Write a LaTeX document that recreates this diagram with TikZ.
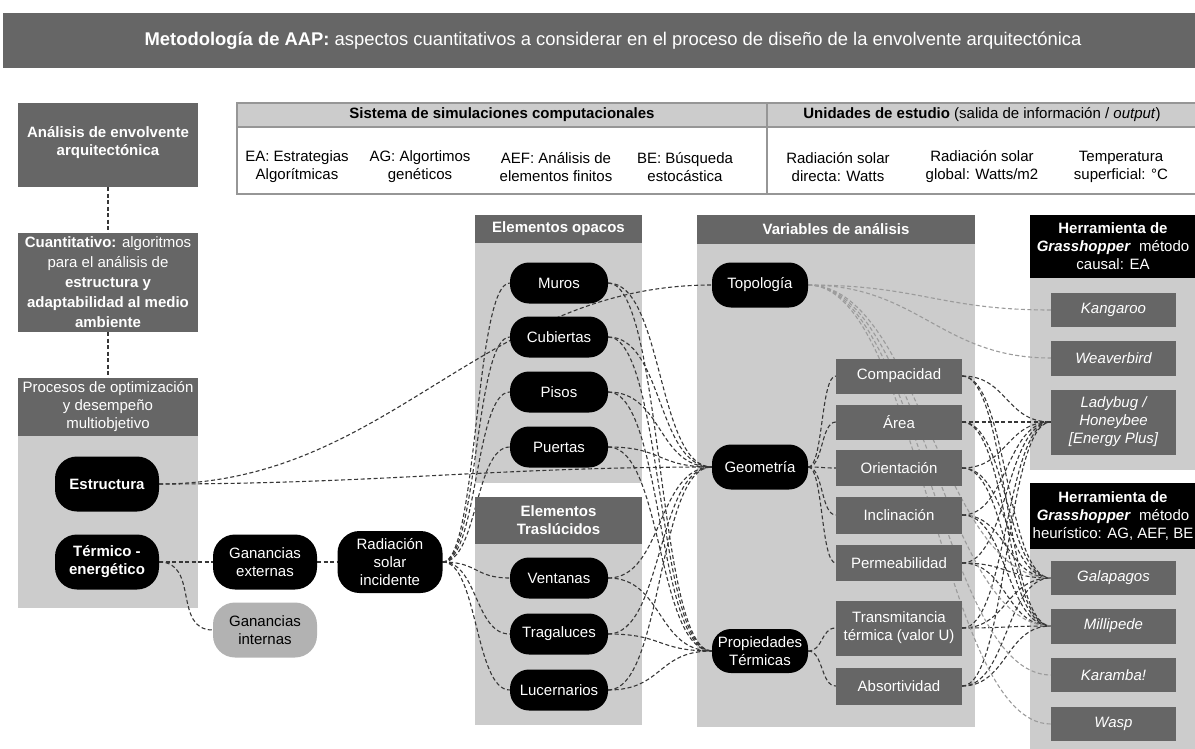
\documentclass[tikz,border=0pt]{standalone}
\usepackage{fontspec}
\setmainfont{Liberation Sans}
\usetikzlibrary{positioning}
\definecolor{AAPDark}{RGB}{102,102,102}
\definecolor{AAPLight}{RGB}{204,204,204}
\definecolor{AAPSoft}{RGB}{178,178,178}
\definecolor{AAPRule}{RGB}{150,150,150}
\definecolor{AAPLink}{RGB}{55,55,55}
\definecolor{AAPFaint}{RGB}{155,155,155}
\pgfdeclarelayer{panels}
\pgfdeclarelayer{links}
\pgfsetlayers{panels,links,main}

\begin{document}
\begin{tikzpicture}[x=1pt,y=-1pt,font=\fontsize{15}{18}\selectfont,
   box/.style={fill=AAPDark,text=white,align=center,inner sep=1pt},
   hdr/.style={box,font=\fontsize{15}{18}\selectfont\bfseries},
   blk/.style={fill=black,text=white,align=center,inner sep=1pt},
   pill/.style={blk,rounded corners=19pt,minimum width=98pt,minimum height=41pt},
   var/.style={box,minimum width=126pt,minimum height=#1},var/.default=35pt,
   tool/.style={box,font=\fontsize{15}{18}\selectfont\itshape,minimum width=125pt,minimum height=#1},tool/.default=34pt,
   link/.style={AAPLink,line width=1.1pt,dash pattern=on 4pt off 2.5pt},
   faint/.style={link,AAPFaint},
   cell/.style={align=center,inner sep=0pt}]
\clip (0,0) rectangle (1195,749);

% title bar
\node[fill=AAPDark,text=white,minimum width=1220pt,minimum height=55pt,font=\fontsize{18.4}{22}\selectfont] (title) at (613,40.5)
   {\textbf{Metodología de AAP:} aspectos cuantitativos a considerar en el proceso de diseño de la envolvente arquitectónica};

% left column
\node[hdr,minimum width=180pt,minimum height=84pt,text height=25pt] (ana) at (108,145) {Análisis de envolvente\\arquitectónica};
\node[box,minimum width=180pt,minimum height=99pt,font=\fontsize{15}{20}\selectfont] (cuan) at (108,282.5)
   {\textbf{Cuantitativo:} algoritmos\\para el análisis de\\\textbf{estructura y}\\\textbf{adaptabilidad al medio}\\\textbf{ambiente}};
\node[box,minimum width=180pt,minimum height=58pt] (proc) at (108,407) {Procesos de optimización\\y desempeño\\multiobjetivo};
\node[pill,minimum width=104pt,minimum height=55pt,rounded corners=22pt,font=\fontsize{15}{18}\selectfont\bfseries] (estr) at (107,484) {Estructura};
\node[pill,minimum width=104pt,minimum height=55pt,rounded corners=22pt,font=\fontsize{15}{18}\selectfont\bfseries] (term) at (107,562) {Térmico -\\energético};
\node[pill,minimum width=104pt,minimum height=55pt,rounded corners=22pt] (gext) at (265,562) {Ganancias\\externas};
\node[pill,fill=AAPSoft,text=black,minimum width=104pt,minimum height=55pt,rounded corners=22pt] (gint) at (265,630) {Ganancias\\internas};
\node[pill,minimum width=105pt,minimum height=62pt,rounded corners=22pt] (rad) at (390,562) {Radiación\\solar\\incidente};

% table of simulations and units
\draw[AAPRule,line width=1.2pt,fill=AAPLight] (237,103) rectangle (1205,127);
\draw[AAPRule,line width=1.2pt] (237,103) rectangle (1205,194);
\draw[AAPRule,line width=1.2pt] (767,103) -- (767,194);
\node[cell,font=\fontsize{15}{18}\selectfont\bfseries] (sim) at (502,115) {Sistema de simulaciones computacionales};
\node[cell] (uni) at (982,115) {\textbf{Unidades de estudio} (salida de información / \textit{output})};
\foreach \x/\t [count=\i] in %
{297/{EA: Estrategias\\Algorítmicas},420/{AG: Algortimos\\genéticos},556/{AEF: Análisis de\\elementos finitos},
 685/{BE: Búsqueda\\estocástica},838/{Radiación solar\\directa: Watts},982/{Radiación solar\\global: Watts/m2},
 1121/{Temperatura\\superficial: °C}} {
   \node[cell] (c\i) at (\x,167) {\t};
}

% panels
\begin{pgfonlayer}{panels}
\fill[AAPLight] (18,436) rectangle (198,608);
\fill[AAPLight] (475,215) rectangle (642,483);
\fill[AAPLight] (475,497) rectangle (642,725);
\fill[AAPLight] (697,215) rectangle (975,727);
\fill[AAPLight] (1030,278) rectangle (1200,470);
\fill[AAPLight] (1030,549) rectangle (1200,760);
\end{pgfonlayer}
\node[hdr,minimum width=167pt,minimum height=28pt] (opa) at (558.5,229) {Elementos opacos};
\node[hdr,minimum width=167pt,minimum height=47pt] (tras) at (558.5,520.5) {Elementos\\Traslúcidos};
\node[hdr,minimum width=278pt,minimum height=29pt] (vars) at (836,229.5) {Variables de análisis};
\node[blk,minimum width=166pt,minimum height=63pt] (causal) at (1113,246.5)
   {\textbf{Herramienta de}\\\textbf{\textit{Grasshopper}}~ método\\causal: EA};
\node[blk,minimum width=166pt,minimum height=66pt] (heur) at (1113,516)
   {\textbf{Herramienta de}\\\textbf{\textit{Grasshopper}}~ método\\heurístico: AG, AEF, BE};

% envelope elements
\foreach \n/\y/\t in %
{mur/283/Muros,cub/337/Cubiertas,pis/392/Pisos,pue/447/Puertas,ven/578/Ventanas,tra/634/Tragaluces,luc/690/Lucernarios} {
   \node[pill] (\n) at (559,\y) {\t};
}

% analysis variables
\node[pill,minimum width=96pt,minimum height=45pt] (topo) at (760,285) {Topología};
\node[pill,minimum width=96pt,minimum height=45pt] (geom) at (760,467) {Geometría};
\node[pill,minimum width=96pt,minimum height=44pt] (prop) at (760,651) {Propiedades\\Térmicas};
\foreach \n/\y/\h/\t in %
{com/376/35pt/Compacidad,are/422/35pt/Área,ori/468/36pt/Orientación,inc/515/37pt/Inclinación,
 per/563/36pt/Permeabilidad,tru/628/55pt/{Transmitancia\\térmica (valor U)},abs/686/37pt/Absortividad} {
   \node[var=\h] (\n) at (899,\y) {\t};
}

% grasshopper tools
\foreach \n/\y/\h/\t in %
{kan/310/34pt/Kangaroo,wea/358/35pt/Weaverbird,lad/422/65pt/{Ladybug /\\Honeybee\\{[Energy Plus]}},
 gal/578/34pt/Galapagos,mil/626/35pt/Millipede,kar/675/34pt/Karamba!,was/724/34pt/Wasp} {
   \node[tool=\h] (\n) at (1113.5,\y) {\t};
}

% connectors
\begin{pgfonlayer}{links}
\draw[link] (ana) -- (cuan);
\draw[link] (cuan) -- (proc);
\draw[link] (estr.east) to[out=0,in=180] (topo.west);
\draw[link] (estr.east) to[out=0,in=180] (geom.west);
\draw[link] (term.east) -- (gext.west);
\draw[link] (term.east) to[out=0,in=180,distance=40pt] (gint.west);
\draw[link] (gext.east) -- (rad.west);
\foreach \n in {mur,cub,pis,pue,ven,tra,luc} {
   \draw[link] (rad.east) to[out=0,in=180,distance=35pt] (\n.west);
   \draw[link] (\n.east) to[out=0,in=180,distance=55pt] (geom.west);
   \draw[link] (\n.east) to[out=0,in=180,distance=55pt] (prop.west);
}
\foreach \n in {com,are,ori,inc,per}
   \draw[link] (geom.east) to[out=0,in=180,distance=15pt] (\n.west);
\foreach \n in {tru,abs}
   \draw[link] (prop.east) to[out=0,in=180,distance=15pt] (\n.west);
\foreach \n in {com,are,ori,inc,per,tru,abs}
   \foreach \m in {lad,gal,mil}
      \draw[link] (\n.east) to[out=0,in=180,distance=45pt] (\m.west);
\foreach \m in {kan,wea,gal,mil,kar,was}
   \draw[faint] (topo.east) to[out=0,in=180,distance=110pt] (\m.west);
\end{pgfonlayer}
\end{tikzpicture}
\end{document}
